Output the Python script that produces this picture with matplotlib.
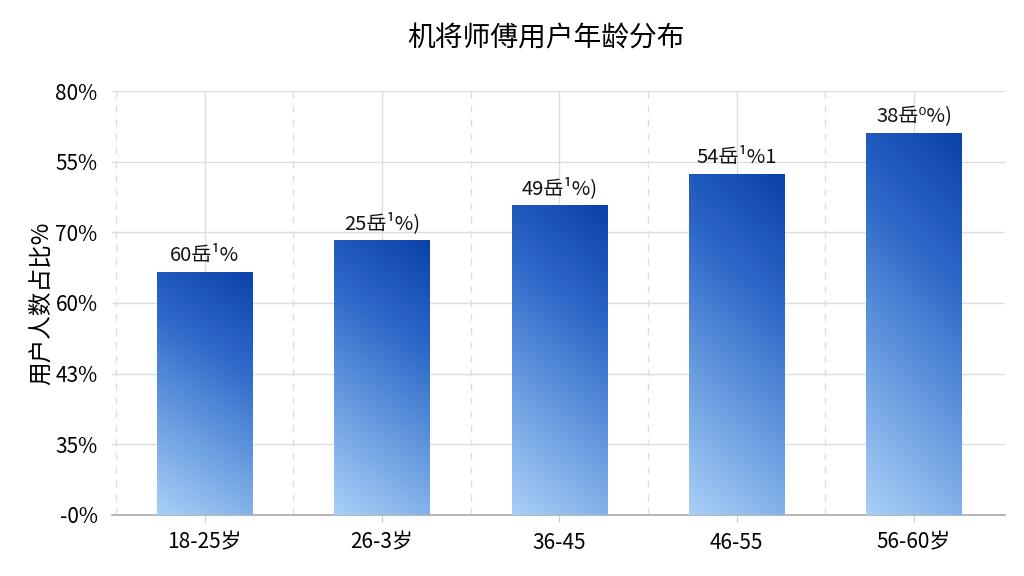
import numpy as np
import matplotlib
matplotlib.use("Agg")
import matplotlib.pyplot as plt
from matplotlib.colors import LinearSegmentedColormap
from matplotlib.patches import Rectangle

plt.rcParams['font.family'] = ['Noto Sans CJK SC', 'DejaVu Sans']

# data
age_groups = ['18-25岁', '26-3岁', '36-45', '46-55', '56-60岁']
share = [34.4, 38.9, 43.8, 48.2, 54.0]
bar_labels = ['60岳¹%', '25岳¹%)', '49岳¹%)', '54岳¹%1', '38岳⁰%)']
ytick_vals = [0, 10, 20, 30, 40, 50, 60]
ytick_text = ['-0%', '35%', '43%', '60%', '70%', '55%', '80%']

fig = plt.figure(figsize=(10.24, 5.76), dpi=100)
ax = fig.add_axes([0.109, 0.106, 0.872, 0.736])

cmap = LinearSegmentedColormap.from_list('blu', ['#aacff7', '#6a9ee0', '#2f69c9', '#0b42aa'])
gx, gy = np.meshgrid(np.linspace(0, 1, 60), np.linspace(0, 1, 200))
grad = 0.2 * gx + 0.8 * gy

x = np.arange(len(age_groups))
width = 0.54
for xi, v, lab in zip(x, share, bar_labels):
    im = ax.imshow(grad, cmap=cmap, origin='lower', aspect='auto',
                   extent=(xi - width / 2, xi + width / 2, 0, v), zorder=3)
    rect = Rectangle((xi - width / 2, 0), width, v, facecolor='none',
                     edgecolor='none', transform=ax.transData)
    ax.add_patch(rect)
    im.set_clip_path(rect)
    ax.text(xi, v + 0.9, lab, ha='center', va='bottom', fontsize=14.5,
            color='#111111', zorder=4)

ax.set_xlim(-0.525, 4.51)
ax.set_ylim(0, 60)
ax.set_xticks(x)
ax.set_xticklabels(age_groups, fontsize=15)
ax.set_yticks(ytick_vals)
ax.set_yticklabels(ytick_text, fontsize=15)
ax.tick_params(axis='x', length=5, color='#cccccc', pad=7)
ax.tick_params(axis='y', length=0, pad=10)

ax.grid(axis='y', color='#dddddd', linewidth=1.0, zorder=0)
ax.grid(axis='x', color='#dddddd', linewidth=1.0, zorder=0)
for m in np.arange(-0.5, 4.0, 1.0):
    ax.axvline(m, color='#dddddd', linestyle=(0, (5, 5)), linewidth=1.0, zorder=0)
ax.set_axisbelow(True)

for s in ['top', 'right', 'left']:
    ax.spines[s].set_visible(False)
ax.spines['bottom'].set_color('#aaaaaa')
ax.spines['bottom'].set_linewidth(1.2)

ax.set_ylabel('用户人数占比%', fontsize=17, labelpad=2)
fig.text(0.533, 0.935, '机将师傅用户年龄分布', ha='center', va='center', fontsize=20)

fig.savefig('out.png', dpi=100)
